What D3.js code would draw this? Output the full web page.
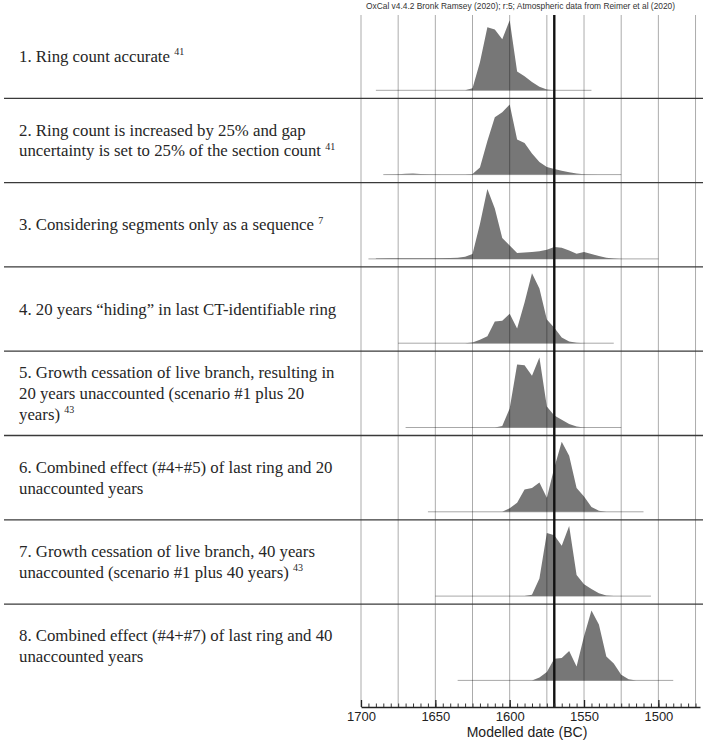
<!DOCTYPE html>
<html>
<head>
<meta charset="utf-8">
<script src="https://cdn.jsdelivr.net/npm/d3@7"></script>
<style>
  body { margin: 0; background: #fff; }
  svg { display: block; }
</style>
</head>
<body>
<svg id="chart"></svg>
<script>
// scenario labels (one entry per line) and their reference numbers
const labels = [
  ["1. Ring count accurate"],
  ["2. Ring count is increased by 25% and gap", "uncertainty is set to 25% of the section count"],
  ["3. Considering segments only as a sequence"],
  ["4. 20 years \u201chiding\u201d in last CT-identifiable ring"],
  ["5. Growth cessation of live branch, resulting in", "20 years unaccounted (scenario #1 plus 20", "years)"],
  ["6. Combined effect (#4+#5) of last ring and 20", "unaccounted years"],
  ["7. Growth cessation of live branch, 40 years", "unaccounted (scenario #1 plus 40 years)"],
  ["8. Combined effect (#4+#7) of last ring and 40", "unaccounted years"]
]
const refs = ["41", "41", "7", "", "43", "", "43", ""]

// modelled probability, [year BC, relative height]
const dist1 = [[1630,0],[1625,0.03],[1620,0.4],[1615,0.9],[1610,0.87],[1605,0.73],[1600,1],[1595,0.27],[1590,0.2],[1585,0.12],[1580,0.05],[1575,0.01],[1570,0]]
const dist2 = [[1685,0],[1675,0.005],[1670,0.012],[1665,0.015],[1660,0.01],[1655,0.005],[1645,0.003],[1630,0.003],[1625,0.01],[1620,0.1],[1615,0.48],[1610,0.82],[1605,0.89],[1600,1],[1595,0.5],[1590,0.45],[1585,0.3],[1580,0.18],[1575,0.11],[1570,0.08],[1565,0.055],[1560,0.035],[1555,0.015],[1550,0.005],[1540,0]]
const dist3 = [[1690,0.005],[1680,0.008],[1670,0.008],[1660,0.008],[1650,0.01],[1640,0.012],[1635,0.015],[1630,0.03],[1625,0.07],[1620,0.5],[1615,1],[1610,0.72],[1605,0.3],[1600,0.19],[1595,0.085],[1590,0.09],[1585,0.1],[1580,0.11],[1575,0.13],[1570,0.17],[1565,0.16],[1560,0.12],[1555,0.075],[1550,0.1],[1545,0.07],[1540,0.04],[1535,0.015],[1530,0.005],[1525,0]]
const dist4 = [[1630,0],[1625,0.01],[1620,0.05],[1615,0.1],[1610,0.31],[1605,0.32],[1600,0.42],[1595,0.21],[1590,0.58],[1585,1],[1580,0.78],[1575,0.34],[1570,0.22],[1565,0.08],[1560,0.025],[1555,0.005],[1550,0]]
const dist5 = [[1610,0],[1605,0.02],[1600,0.27],[1595,0.9],[1590,0.89],[1585,0.74],[1580,1],[1575,0.3],[1570,0.17],[1565,0.11],[1560,0.05],[1555,0.015],[1550,0]]
const dist6 = [[1605,0],[1600,0.05],[1595,0.13],[1590,0.32],[1585,0.34],[1580,0.42],[1575,0.2],[1570,0.63],[1565,1],[1560,0.8],[1555,0.34],[1550,0.22],[1545,0.07],[1540,0.015],[1535,0]]
const dist7 = [[1590,0],[1585,0.02],[1580,0.25],[1575,0.9],[1570,0.87],[1565,0.72],[1560,1],[1555,0.3],[1550,0.17],[1545,0.1],[1540,0.04],[1535,0.01],[1530,0]]
const dist8 = [[1585,0],[1580,0.04],[1575,0.12],[1570,0.31],[1565,0.32],[1560,0.42],[1555,0.2],[1550,0.63],[1545,1],[1540,0.8],[1535,0.34],[1530,0.24],[1525,0.08],[1520,0.015],[1515,0]]
const dists = [dist1, dist2, dist3, dist4, dist5, dist6, dist7, dist8]

// plotted range of each distribution (years BC)
const rangeStart = [1690, 1685, 1695, 1675, 1670, 1655, 1650, 1635]
const rangeEnd = [1545, 1525, 1500, 1530, 1525, 1510, 1505, 1490]

const markerYear = 1570
const majorTicks = [1700, 1650, 1600, 1550, 1500]
const gridYears = [1700, 1675, 1650, 1625, 1600, 1575, 1550, 1525, 1500, 1475]
const minorTicks = d3.range(1700, 1471, -5)
const headerText = "OxCal v4.4.2 Bronk Ramsey (2020); r:5; Atmospheric data from Reimer et al (2020)"

const W = 708, H = 745
const plotTop = 15, axisY = 707

const svg = d3.select("#chart").attr("width", W).attr("height", H)

const x = d3.scaleLinear().domain([1700, 1472]).range([361, 700])
const row = d3.scaleBand().domain(d3.range(labels.length)).range([14, 688.4])
const h = d3.scaleLinear().domain([0, 1]).range([0, 70])

// distributions
const area = (base) => d3.area()
  .x((d) => x(d[0]))
  .y0(base)
  .y1((d) => base - h(d[1]))

dists.forEach((dist, i) => {
  const base = row(i) + row.bandwidth() - 8
  svg.append("line")
    .attr("x1", x(rangeStart[i])).attr("x2", x(rangeEnd[i]))
    .attr("y1", base).attr("y2", base)
    .attr("stroke", "#a8a8a8").attr("stroke-width", 1)
  svg.append("path")
    .datum(dist)
    .attr("d", area(base))
    .attr("fill", "#777")
})

// vertical gridlines
svg.append("g")
  .selectAll("line")
  .data(gridYears)
  .enter()
  .append("line")
  .attr("x1", (d) => x(d)).attr("x2", (d) => x(d))
  .attr("y1", plotTop).attr("y2", axisY)
  .attr("stroke", "#000").attr("stroke-opacity", 0.33).attr("stroke-width", 1)

// row separators
svg.append("g")
  .selectAll("line")
  .data(d3.range(1, labels.length))
  .enter()
  .append("line")
  .attr("x1", 4).attr("x2", 703)
  .attr("y1", (d) => row(d)).attr("y2", (d) => row(d))
  .attr("stroke", "#3a3a3a").attr("stroke-width", 1.3)

// marker line
svg.append("line")
  .attr("x1", x(markerYear)).attr("x2", x(markerYear))
  .attr("y1", plotTop).attr("y2", axisY)
  .attr("stroke", "#111").attr("stroke-width", 2.4)

// labels
labels.forEach((lines, i) => {
  const mid = row(i) + row.bandwidth() / 2 + 5.5
  const lh = 20.7
  const first = mid - (lines.length - 1) * lh / 2
  lines.forEach((ln, j) => {
    const t = svg.append("text")
      .attr("x", 19).attr("y", first + j * lh)
      .attr("font-family", "'Liberation Serif', 'Times New Roman', serif")
      .attr("font-size", 16.8).attr("fill", "#262626")
      .text(ln)
    if (j === lines.length - 1 && refs[i]) {
      t.append("tspan").text(" ")
      t.append("tspan")
        .attr("font-size", 10).attr("dy", -6.5)
        .text(refs[i])
    }
  })
})

// axis
const axisFont = "'Liberation Sans', Arial, sans-serif"
svg.append("g")
  .attr("transform", `translate(0,${axisY})`)
  .call(d3.axisBottom(x).tickValues(minorTicks).tickSizeInner(-3.5).tickSizeOuter(0).tickFormat(""))
  .call((g) => g.selectAll("line").attr("stroke", "#333"))
  .call((g) => g.select(".domain").attr("stroke", "#222").attr("stroke-width", 1.3))

svg.append("g")
  .attr("transform", `translate(0,${axisY})`)
  .call(d3.axisBottom(x).tickValues(majorTicks).tickSizeInner(-7).tickSizeOuter(0).tickPadding(5).tickFormat(d3.format("d")))
  .call((g) => g.select(".domain").remove())
  .call((g) => g.selectAll("line").attr("stroke", "#222").attr("stroke-width", 1.3))
  .call((g) => g.selectAll("text").attr("font-family", axisFont).attr("font-size", 13).attr("fill", "#222"))

svg.append("text")
  .attr("x", 527).attr("y", 737)
  .attr("text-anchor", "middle")
  .attr("font-family", axisFont).attr("font-size", 14).attr("fill", "#222")
  .text("Modelled date (BC)")

svg.append("text")
  .attr("x", 366).attr("y", 9)
  .attr("font-family", axisFont).attr("font-size", 8.4).attr("fill", "#333")
  .text(headerText)
</script>
</body>
</html>
